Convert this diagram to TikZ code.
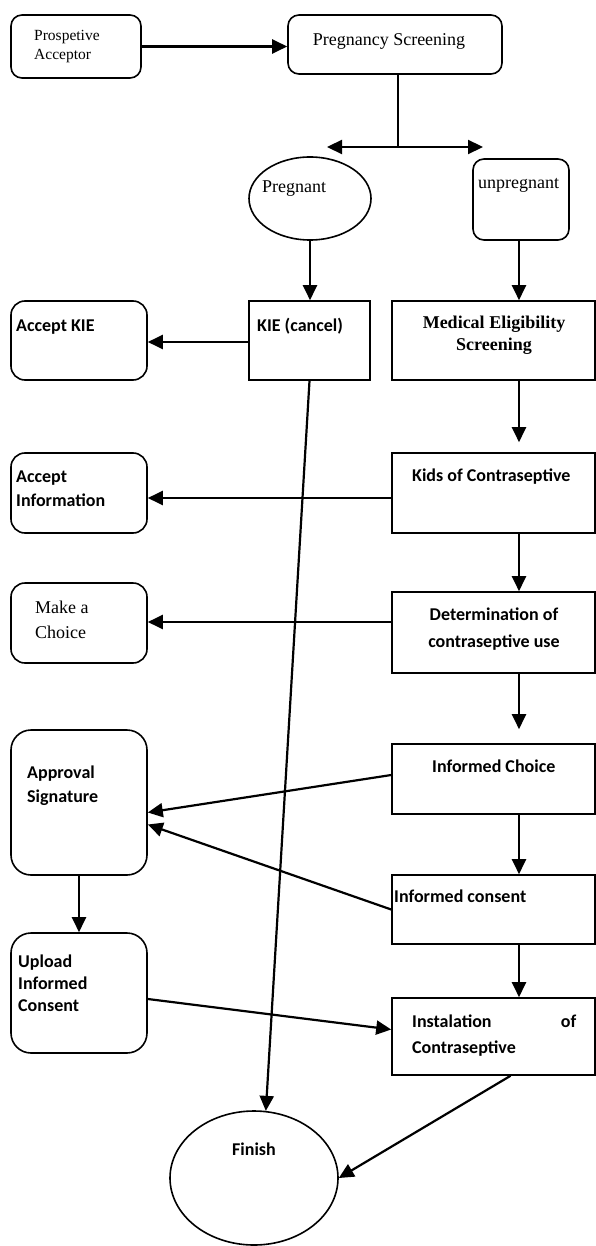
\documentclass[tikz,border=0pt]{standalone}
\usepackage{fontspec}
\setmainfont{Liberation Serif}
\newfontfamily\calib{Carlito}
\usetikzlibrary{arrows.meta,calc,shapes.geometric}
\begin{document}
\begin{tikzpicture}[x=1pt,y=-1pt,
  rbox/.style={draw,line width=1.6pt,inner sep=0pt,rounded corners=#1},
  sbox/.style={draw,line width=1.6pt,inner sep=0pt},
  ebox/.style={draw,ellipse,line width=1.6pt,inner sep=0pt},
  tip/.tip={Triangle[length=15pt,width=14pt]},
  arr/.style={line width=2.2pt,-tip},
  ln/.style={line width=2.2pt},
  lbl/.style={inner sep=0pt,anchor=north west,align=left},
  clbl/.style={inner sep=0pt,anchor=north,align=center},
  serif/.style={font=\fontsize{18}{#1}\selectfont},
  bsans/.style={font=\calib\bfseries\fontsize{18}{#1}\selectfont},
  bserif/.style={font=\bfseries\fontsize{18}{#1}\selectfont}]
\useasboundingbox[fill=white] (0,0) rectangle (596,1246);

% boxes
\node[rbox=11pt,minimum width=130pt,minimum height=63pt] (pa) at (76,46.5) {};
\node[rbox=11pt,minimum width=214pt,minimum height=59pt] (ps) at (395,44.5) {};
\node[ebox,minimum width=122pt,minimum height=83pt] (preg) at (310,198.5) {};
\node[rbox=11pt,minimum width=96pt,minimum height=81pt] (unpreg) at (521,199.5) {};
\node[sbox,minimum width=121pt,minimum height=79pt] (kie) at (309.5,340.5) {};
\node[sbox,minimum width=203pt,minimum height=79pt] (med) at (493.5,340.5) {};
\node[rbox=14pt,minimum width=136pt,minimum height=79pt] (akie) at (79,340.5) {};
\node[sbox,minimum width=203pt,minimum height=80pt] (kids) at (493.5,493) {};
\node[rbox=14pt,minimum width=136pt,minimum height=80pt] (ainfo) at (79,493) {};
\node[sbox,minimum width=203pt,minimum height=81pt] (det) at (493.5,632.5) {};
\node[rbox=14pt,minimum width=136pt,minimum height=80pt] (choice) at (79,623) {};
\node[sbox,minimum width=203pt,minimum height=70pt] (ichoice) at (493.5,779) {};
\node[rbox=20pt,minimum width=136pt,minimum height=145pt] (appr) at (79,802.5) {};
\node[sbox,minimum width=203pt,minimum height=69pt] (icons) at (493.5,909.5) {};
\node[rbox=20pt,minimum width=136pt,minimum height=120pt] (upload) at (79,993) {};
\node[sbox,minimum width=203pt,minimum height=77pt] (inst) at (493.5,1036.5) {};
\node[ebox,minimum width=168pt,minimum height=134pt] (finish) at (254,1178) {};

% texts
\node[lbl,font=\fontsize{15.5}{19}\selectfont] (tpa) at (34,30) {Prospetive\\Acceptor};
\node[clbl,serif=22] (tps) at (389,33) {Pregnancy Screening};
\node[lbl,serif=22] (tpreg) at (262,181) {Pregnant};
\node[lbl,serif=22] (tunp) at (478,178) {unpregnant};
\node[lbl,bsans=22] (tkie) at (257,318) {KIE (cancel)};
\node[clbl,bserif=22] (tmed) at (494,316) {Medical Eligibility\\Screening};
\node[lbl,bsans=22] (takie) at (16,320) {Accept KIE};
\node[lbl,bsans=22] (tkids) at (412,469) {Kids of Contraseptive};
\node[lbl,bsans=24] (tainfo) at (16,471) {Accept\\Information};
\node[clbl,bsans=27] (tdet) at (494,608) {Determination of\\contraseptive use};
\node[lbl,serif=25] (tchoice) at (35,601) {Make a\\Choice};
\node[lbl,bsans=22] (tich) at (432,760) {Informed Choice};
\node[lbl,bsans=24] (tappr) at (27,766) {Approval\\Signature};
\node[lbl,bsans=22] (ticons) at (394,890) {Informed consent};
\node[lbl,bsans=22] (tupl) at (18,955) {Upload\\Informed\\Consent};
\node[lbl,bsans=26] (tinst) at (412,1015) {\hbox to 164pt{Instalation\hfill of}\\Contraseptive};
\node[clbl,bsans=22] (tfin) at (254,1143) {Finish};

% connectors
\coordinate (sp) at (398,147);
\coordinate (sl) at (327,147);
\coordinate (sr) at (483,147);
\coordinate (colx) at (519,0);
\draw[arr] (pa.east) -- (pa.east -| ps.west);
\draw[ln] (ps.south -| sp) -- (sp);
\draw[line width=2.2pt,tip-tip] (sl) -- (sr);
\draw[arr] (preg.south) -- (preg.south |- kie.north);
\draw[arr] (unpreg.south -| colx) -- (med.north -| colx);
\draw[arr] ($(kie.west)+(0,1.5)$) -- ($(kie.west -| akie.east)+(0,1.5)$);
\draw[arr] (kie.south) -- (finish.80);
\draw[arr,shorten >=10pt] (med.south -| colx) -- (kids.north -| colx);
\draw[arr] ($(kids.west)+(0,5)$) -- ($(kids.west -| ainfo.east)+(0,5)$);
\draw[arr] (kids.south -| colx) -- (det.north -| colx);
\draw[arr] ($(det.west)+(0,-10.5)$) -- ($(det.west -| choice.east)+(0,-10.5)$);
\draw[arr,shorten >=14pt] (det.south -| colx) -- (ichoice.north -| colx);
\draw[arr] ($(ichoice.west)+(0,-4)$) -- ($(appr.east)+(0,10)$);
\draw[arr] (icons.west) -- ($(appr.east)+(0,22)$);
\draw[arr] (ichoice.south -| colx) -- (icons.north -| colx);
\draw[arr] (appr.south) -- (upload.north);
\draw[arr] ($(upload.east)+(0,6)$) -- ($(inst.west)+(0,-7)$);
\draw[arr] (icons.south -| colx) -- (inst.north -| colx);
\draw[arr] ($(inst.south)+(17,0)$) -- (finish.east);
\end{tikzpicture}
\end{document}
